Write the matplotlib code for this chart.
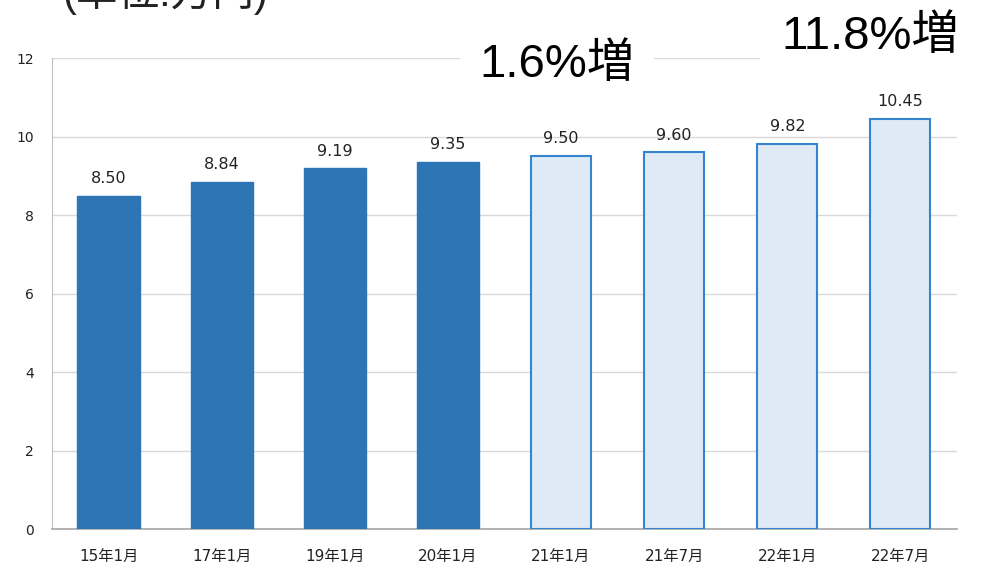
import matplotlib
matplotlib.use('Agg')
import matplotlib.pyplot as plt

plt.rcParams['font.family'] = ['DejaVu Sans', 'Noto Sans CJK JP']

categories = ['15年1月', '17年1月', '19年1月', '20年1月', '21年1月', '21年7月', '22年1月', '22年7月']
values = [8.50, 8.84, 9.19, 9.35, 9.50, 9.60, 9.82, 10.45]
actual = [True, True, True, True, False, False, False, False]
yticks = [0, 2, 4, 6, 8, 10, 12]

DARK = '#2E75B6'
LIGHT = '#DEEAF6'
EDGE = '#3484CF'
GRID = '#D9D9D9'
BIG = ['Liberation Sans', 'Noto Sans CJK JP']

fig = plt.figure(figsize=(9.86, 5.65), dpi=100)
ax = fig.add_axes([0.0527, 0.0637, 0.9179, 0.8333])

x = list(range(len(categories)))
for i, (v, a) in enumerate(zip(values, actual)):
    if a:
        ax.bar(i, v, width=0.55, color=DARK, edgecolor=DARK, linewidth=1, zorder=3)
    else:
        ax.bar(i, v, width=0.53, color=LIGHT, edgecolor=EDGE, linewidth=1.5, zorder=3)
    ax.text(i, v + 0.25, f'{v:.2f}', ha='center', va='bottom', fontsize=11.5, color='#222222')

ax.set_xlim(-0.5, len(categories) - 0.5)
ax.set_ylim(0, 12)
ax.set_yticks(yticks)
ax.set_yticklabels([str(t) for t in yticks], fontsize=10)
ax.set_xticks(x)
ax.set_xticklabels(categories, fontsize=11)
ax.tick_params(axis='both', length=0, colors='#222222')
ax.tick_params(axis='y', pad=13)
ax.tick_params(axis='x', pad=14)
ax.yaxis.grid(True, color=GRID, linewidth=1, zorder=0)
ax.set_axisbelow(True)
for s in ['top', 'right']:
    ax.spines[s].set_visible(False)
ax.spines['left'].set_color('#BFBFBF')
ax.spines['bottom'].set_color('#A6A6A6')
ax.spines['bottom'].set_linewidth(1.2)

# annotations
fig.text(0.063, 1.013, '(単位:万円)', fontsize=30, ha='left', va='center', color='#222222', family=BIG)
fig.text(0.565, 0.885, '1.6%増', fontsize=34, ha='center', va='center', color='black', family=BIG,
         bbox=dict(facecolor='white', edgecolor='none', pad=14))
fig.text(0.883, 0.935, '11.8%増', fontsize=34, ha='center', va='center', color='black', family=BIG,
         bbox=dict(facecolor='white', edgecolor='none', pad=16))

fig.savefig('out.png', dpi=100)
